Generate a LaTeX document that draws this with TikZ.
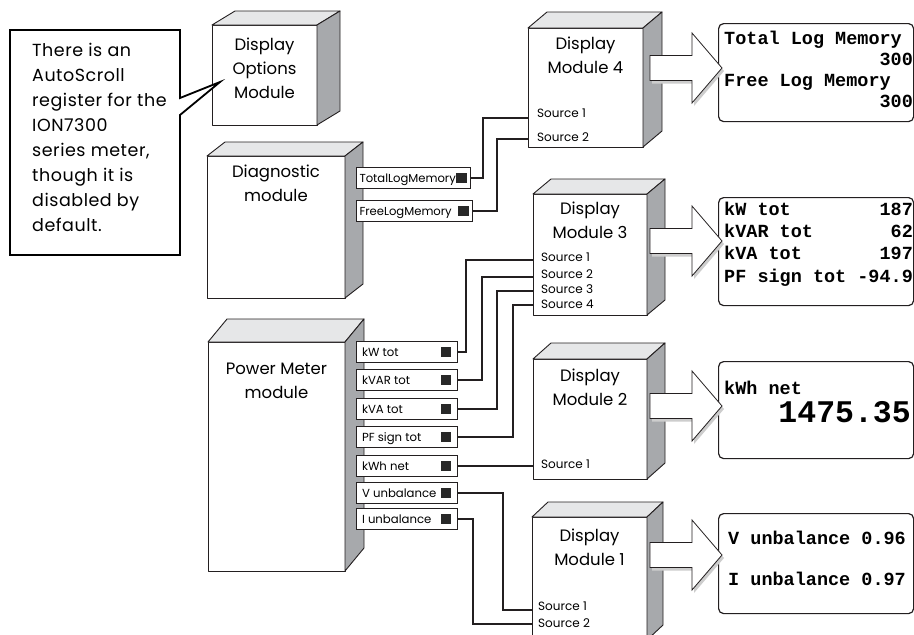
\documentclass[tikz,border=0pt]{standalone}
\usepackage{fontspec}
\usepackage{tikz}
\usetikzlibrary{positioning}
\setmainfont{Poppins}
\newfontfamily\calloutFont{Poppins}[LetterSpace=3]
\newfontfamily\panelFont{Liberation Mono}
\definecolor{lineColor}{RGB}{35,31,32}
\definecolor{topColor}{RGB}{230,231,232}
\definecolor{sideColor}{RGB}{167,169,172}
\definecolor{shadowColor}{RGB}{205,205,205}
\definecolor{squareColor}{RGB}{40,40,40}
\tikzstyle{diagram} = [x = 1pt, y = -1pt]
\tikzstyle{faceStyle} = [draw=lineColor, line width=.9pt, line join=round]
\tikzstyle{frontFace} = [faceStyle, fill=white, anchor=north west, inner sep=0pt, outer sep=0pt]
\tikzstyle{topFace} = [faceStyle, fill=topColor]
\tikzstyle{sideFace} = [faceStyle, fill=sideColor]
\tikzstyle{moduleText} = [font=\fontsize{16.5}{24}\selectfont, align=center, inner sep=0pt]
\tikzstyle{portStyle} = [draw=lineColor, fill=white, line width=.8pt, anchor=west, inner ysep=0pt, outer sep=0pt, minimum height=21pt, text height=10pt, text depth=2pt]
\tikzstyle{powerPort} = [portStyle, inner xsep=6pt, font=\fontsize{11.7}{14}\selectfont]
\tikzstyle{diagnosticPort} = [portStyle, inner xsep=3.5pt, font=\fontsize{11.6}{14}\selectfont]
\tikzstyle{sourceText} = [font=\fontsize{12}{13}\selectfont, inner sep=0pt, anchor=west]
\tikzstyle{wire} = [draw=lineColor, line width=1.3pt]
\tikzstyle{panelStyle} = [draw=lineColor, fill=white, line width=1.2pt, rounded corners=5pt, anchor=north west]
\tikzstyle{panelText} = [font=\panelFont\bfseries\fontsize{18.5}{21}\selectfont, inner sep=0pt, anchor=base west]
\tikzstyle{calloutStyle} = [draw=black, line width=1.8pt, fill=white]
\tikzstyle{calloutText} = [font=\calloutFont\fontsize{17.5}{25}\selectfont, align=left, inner sep=0pt, anchor=north west]
\tikzstyle{arrowStyle} = [draw=lineColor, fill=white, line width=.8pt, line join=miter]
\tikzstyle{arrowShadow} = [fill=shadowColor, shift={(2,3)}]
\newcommand{\portSquare}{\textcolor{squareColor}{\raisebox{-1pt}{\rule{10.5pt}{10.5pt}}}}
\newcommand{\portLabel}[2]{\makebox[#1][l]{#2\hfill\portSquare}}
\newcommand{\panelRow}[2]{\makebox[188.7pt][l]{#1\hfill#2}}
\newcommand{\moduleBox}[7]{
  \node [frontFace, minimum width=#4pt, minimum height=#5pt] (#1) at (#2,#3) {};
  \filldraw [topFace] (#1.north west) -- ++(#6,#7) -- ++(#4,0) -- (#1.north east) -- cycle;
  \filldraw [sideFace] (#1.north east) -- ++(#6,#7) -- ++(0,#5) -- (#1.south east) -- cycle;
}
\newcommand{\blockArrow}[1]{
  \fill [arrowShadow] (650,#1-12.5) -- (692,#1-12.5) -- (692,#1-35) -- (722,#1) -- (692,#1+35) -- (692,#1+12.5) -- (650,#1+12.5) -- cycle;
  \filldraw [arrowStyle] (650,#1-12.5) -- (692,#1-12.5) -- (692,#1-35) -- (722,#1) -- (692,#1+35) -- (692,#1+12.5) -- (650,#1+12.5) -- cycle;
}

\begin{document}
\begin{tikzpicture}[diagram]
  \useasboundingbox (0,0) rectangle (914,635);
  \moduleBox{optionsModule}{212}{25}{105}{100}{23}{-14}
  \moduleBox{diagnosticModule}{207}{156}{138}{142}{18}{-14}
  \moduleBox{powerMeter}{208}{342}{137}{229}{19}{-23}
  \moduleBox{displayFour}{528}{28}{115}{119}{19}{-16}
  \moduleBox{displayThree}{533}{194}{114}{121}{18}{-15}
  \moduleBox{displayTwo}{533}{359}{114}{120}{18}{-16}
  \moduleBox{displayOne}{532}{517}{115}{123}{16}{-15}

  \node [moduleText, below=12.5pt of optionsModule.north] (optionsLabel) {Display\\Options\\Module};
  \node [moduleText, below=9pt of diagnosticModule.north] (diagnosticLabel) {Diagnostic\\module};
  \node [moduleText, below=21pt of powerMeter.north] (powerMeterLabel) {Power Meter\\module};
  \node [moduleText, below=9pt of displayFour.north] (displayFourLabel) {Display\\Module 4};
  \node [moduleText, below=8pt of displayThree.north] (displayThreeLabel) {Display\\Module 3};
  \node [moduleText, below=10pt of displayTwo.north] (displayTwoLabel) {Display\\Module 2};
  \node [moduleText, below=12pt of displayOne.north] (displayOneLabel) {Display\\Module 1};

  \filldraw [calloutStyle] (10,30) -- (180,30) -- (180,98) -- (220,82) -- (180,115) -- (180,255) -- (10,255) -- cycle;
  \node [calloutText] (calloutNote) at (32,43) {There is an\\AutoScroll\\register for the\\ION7300\\series meter,\\though it is\\disabled by\\default.};

  \node [diagnosticPort, minimum width=114pt] (totalLogPort) at (356,178) {\portLabel{107pt}{TotalLogMemory}};
  \node [diagnosticPort, minimum width=116pt] (freeLogPort) at (356,211) {\portLabel{109pt}{FreeLogMemory}};
  \foreach \portName/\portY/\portText in {kWPort/352/kW tot, kVARPort/380/kVAR tot, kVAPort/409/kVA tot, pfPort/437/PF sign tot, kWhPort/466/kWh net, vUnbalPort/493/V unbalance, iUnbalPort/519/I unbalance}
    \node [powerPort, minimum width=101pt] (\portName) at (356,\portY) {\portLabel{89pt}{\portText}};

  \coordinate (displayFourIn1) at (528,118);
  \coordinate (displayFourIn2) at (528,139);
  \coordinate (displayThreeIn1) at (533,260);
  \coordinate (displayThreeIn2) at (533,277);
  \coordinate (displayThreeIn3) at (533,291);
  \coordinate (displayThreeIn4) at (533,305);
  \coordinate (displayTwoIn1) at (533,466);
  \coordinate (displayOneIn1) at (532,610);
  \coordinate (displayOneIn2) at (532,624);

  \draw [wire] (totalLogPort.east) -- ++(13,0) |- (displayFourIn1);
  \draw [wire] (freeLogPort.east) -- ++(25,0) |- (displayFourIn2);
  \draw [wire] (kWPort.east) -- ++(9,0) |- (displayThreeIn1);
  \draw [wire] (kVARPort.east) -- ++(25,0) |- (displayThreeIn2);
  \draw [wire] (kVAPort.east) -- ++(40,0) |- (displayThreeIn3);
  \draw [wire] (pfPort.east) -- ++(56,0) |- (displayThreeIn4);
  \draw [wire] (kWhPort.east) -- (displayTwoIn1);
  \draw [wire] (vUnbalPort.east) -- ++(46,0) |- (displayOneIn1);
  \draw [wire] (iUnbalPort.east) -- ++(16,0) |- (displayOneIn2);

  \node [sourceText] (displayFourSrc1) at (537,113) {Source 1};
  \node [sourceText] (displayFourSrc2) at (537,137) {Source 2};
  \node [sourceText] (displayThreeSrc1) at (541,257) {Source 1};
  \node [sourceText] (displayThreeSrc2) at (541,274) {Source 2};
  \node [sourceText] (displayThreeSrc3) at (541,289) {Source 3};
  \node [sourceText] (displayThreeSrc4) at (541,304) {Source 4};
  \node [sourceText] (displayTwoSrc1) at (541,464) {Source 1};
  \node [sourceText] (displayOneSrc1) at (538,606) {Source 1};
  \node [sourceText] (displayOneSrc2) at (538,623) {Source 2};

  \node [panelStyle, minimum width=195pt, minimum height=98pt] (panelFour) at (718,23) {};
  \node [panelStyle, minimum width=195pt, minimum height=108pt] (panelThree) at (718,197) {};
  \node [panelStyle, minimum width=195pt, minimum height=97pt] (panelTwo) at (718,361) {};
  \node [panelStyle, minimum width=195pt, minimum height=100pt] (panelOne) at (718,513) {};

  \blockArrow{68}
  \blockArrow{241}
  \blockArrow{406}
  \blockArrow{555}

  \foreach \rowName/\rowY/\rowLabel/\rowValue in {totalRow/44/Total Log Memory/, totalValue/65//300, freeRow/86/Free Log Memory/, freeValue/107//300, kWRow/215/kW tot/187, kVARRow/237/kVAR tot/62, kVARow/259/kVA tot/197, pfRow/282/PF sign tot/-94.9}
    \node [panelText] (\rowName) at (724,\rowY) {\panelRow{\rowLabel}{\rowValue}};
  \node [panelText] (kWhRow) at (724,394) {kWh net};
  \node [panelText, anchor=base east, font=\panelFont\bfseries\fontsize{31.5}{34}\selectfont] (kWhValue) at (911,422) {1475.35};
  \node [panelText] (vUnbalRow) at (728,544) {V unbalance 0.96};
  \node [panelText] (iUnbalRow) at (728,585) {I unbalance 0.97};
\end{tikzpicture}
\end{document}
